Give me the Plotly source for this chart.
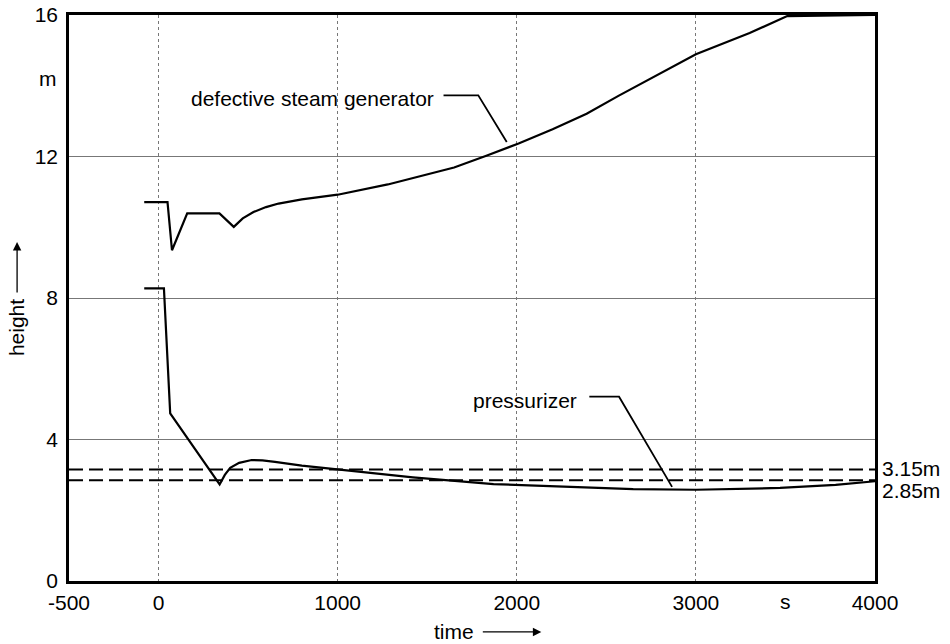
import plotly.graph_objects as go

# ---- data ----
sg_t = [-80, 50, 75, 160, 340, 420, 470, 530, 600, 670, 800, 1000, 1280, 1650, 1830, 2010, 2200, 2390, 2570, 2750, 3000, 3300, 3510, 4000]
sg_h = [10.71, 10.71, 9.35, 10.39, 10.39, 10.01, 10.25, 10.43, 10.57, 10.67, 10.79, 10.92, 11.21, 11.69, 12.02, 12.37, 12.77, 13.21, 13.72, 14.21, 14.89, 15.49, 15.97, 16.0]

pz_t = [-80, 30, 65, 341, 370, 400, 450, 520, 580, 650, 800, 1000, 1420, 1870, 2240, 2650, 3000, 3470, 3780, 4000]
pz_h = [8.27, 8.27, 4.74, 2.73, 3.0, 3.2, 3.34, 3.42, 3.41, 3.37, 3.26, 3.16, 2.93, 2.74, 2.67, 2.60, 2.58, 2.63, 2.72, 2.82]

limit_levels = [3.15, 2.85]
limit_labels = ["3.15m", "2.85m"]

x_ticks = [-500, 0, 1000, 2000, 3000, 4000]
y_ticks = [0, 4, 8, 12, 16]

# label leader lines (label anchor -> curve)
sg_leader_t = [1591, 1785, 1944]
sg_leader_h = [13.73, 13.73, 12.41]
pz_leader_t = [2405, 2571, 2867]
pz_leader_h = [5.21, 5.21, 2.66]

FONT = "Liberation Sans, Arial, Helvetica, sans-serif"
FS = 21

fig = go.Figure()

for lvl in limit_levels:
    fig.add_trace(go.Scatter(x=[-500, 4000], y=[lvl, lvl], mode="lines",
                             line=dict(color="black", width=2, dash="14px,6px"),
                             hoverinfo="skip", showlegend=False))

fig.add_trace(go.Scatter(x=sg_t, y=sg_h, mode="lines",
                         line=dict(color="black", width=2.2), showlegend=False,
                         name="defective steam generator"))
fig.add_trace(go.Scatter(x=pz_t, y=pz_h, mode="lines",
                         line=dict(color="black", width=2.2), showlegend=False,
                         name="pressurizer"))
fig.add_trace(go.Scatter(x=sg_leader_t, y=sg_leader_h, mode="lines",
                         line=dict(color="black", width=1.8), showlegend=False, hoverinfo="skip"))
fig.add_trace(go.Scatter(x=pz_leader_t, y=pz_leader_h, mode="lines",
                         line=dict(color="black", width=1.8), showlegend=False, hoverinfo="skip"))

ann = []
ann.append(dict(x=sg_leader_t[0], y=sg_leader_h[0], xref="x", yref="y",
                text="defective steam generator", showarrow=False,
                xanchor="right", xshift=-8, yanchor="middle", yshift=-3,
                font=dict(family=FONT, size=FS, color="black")))
ann.append(dict(x=pz_leader_t[0], y=pz_leader_h[0], xref="x", yref="y",
                text="pressurizer", showarrow=False,
                xanchor="right", xshift=-10, yanchor="middle", yshift=-4,
                font=dict(family=FONT, size=FS, color="black")))
for lvl, lab, ys in zip(limit_levels, limit_labels, [1, -10]):
    ann.append(dict(x=1, y=lvl, xref="paper", yref="y", text=lab, showarrow=False,
                    xanchor="left", xshift=5, yanchor="middle", yshift=ys,
                    font=dict(family=FONT, size=FS, color="black")))
# unit labels
ann.append(dict(x=0, y=14.2, xref="paper", yref="y", text="m", showarrow=False,
                xanchor="right", xshift=-10, yanchor="middle",
                font=dict(family=FONT, size=FS, color="black")))
ann.append(dict(x=3500, y=0, xref="x", yref="paper", text="s", showarrow=False,
                xanchor="center", yanchor="middle", yshift=-20,
                font=dict(family=FONT, size=FS, color="black")))
# axis titles with arrows
ann.append(dict(x=-0.0644, y=0.447, xref="paper", yref="paper", text="height", showarrow=False,
                textangle=-90, xanchor="center", yanchor="middle",
                font=dict(family=FONT, size=FS, color="black")))
ann.append(dict(x=-0.0644, y=0.599, xref="paper", yref="paper", text="", showarrow=True,
                ax=0, ay=52, arrowhead=2, arrowsize=1.3, arrowwidth=1.3, arrowcolor="black"))
ann.append(dict(x=0.478, y=-0.09, xref="paper", yref="paper", text="time", showarrow=False,
                xanchor="center", yanchor="middle",
                font=dict(family=FONT, size=FS, color="black")))
ann.append(dict(x=0.586, y=-0.09, xref="paper", yref="paper", text="", showarrow=True,
                ax=-60, ay=0, arrowhead=2, arrowsize=1.3, arrowwidth=1.3, arrowcolor="black"))

fig.update_layout(
    width=950, height=644,
    margin=dict(l=69, r=75, t=15, b=63),
    paper_bgcolor="white", plot_bgcolor="white",
    font=dict(family=FONT, size=FS, color="black"),
    annotations=ann,
    showlegend=False,
)
fig.update_xaxes(range=[-500, 4000], tickvals=x_ticks, ticktext=[str(v) for v in x_ticks],
                 showgrid=True, gridcolor="#777", gridwidth=1, griddash="dot",
                 showline=True, linecolor="black", linewidth=2.5, mirror=True,
                 ticks="", ticklabelstandoff=1, zeroline=False, automargin=False)
fig.update_yaxes(range=[0, 16], tickvals=y_ticks, ticktext=[str(v) for v in y_ticks],
                 showgrid=True, gridcolor="#777", gridwidth=1,
                 showline=True, linecolor="black", linewidth=2.5, mirror=True,
                 ticks="", ticklabelstandoff=4, zeroline=False, automargin=False)

fig.write_html("out.html")
